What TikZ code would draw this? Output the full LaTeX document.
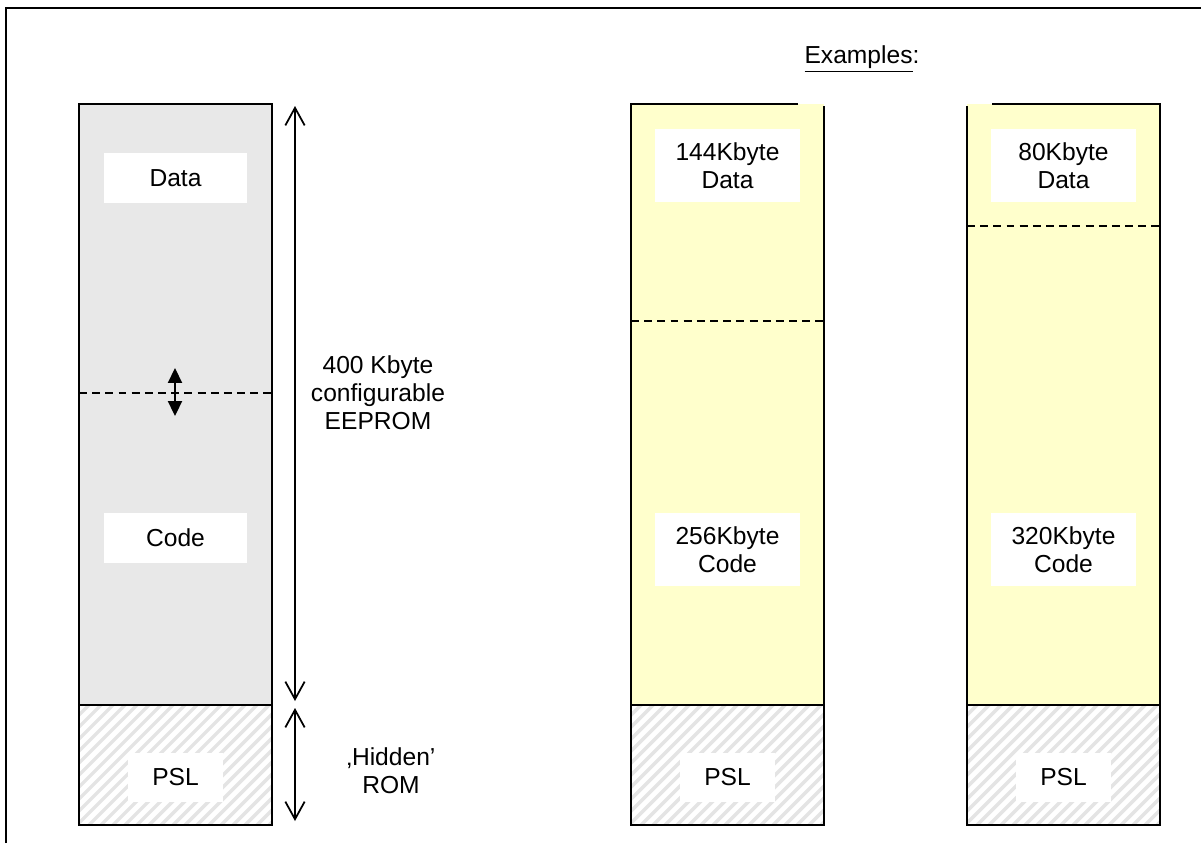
\documentclass[tikz,border=0pt]{standalone}
\usepackage{fontspec}
\setmainfont{Liberation Sans}
\usetikzlibrary{arrows.meta}
\definecolor{memgray}{RGB}{232,232,232}
\definecolor{memyellow}{RGB}{255,255,204}
\definecolor{hatchgray}{RGB}{228,228,228}

\begin{document}
\begin{tikzpicture}[x=0.02cm, y=-0.02cm,
        every node/.style={font=\fontsize{14}{16}\selectfont, align=center},
        wall/.style={line width=1pt},
        split/.style={line width=0.8pt, dash pattern=on 4.5pt off 3pt},
        hatch/.style={hatchgray, line width=2pt},
        span/.style={line width=1pt, {Straight Barb[length=10pt,width=11pt]}-{Straight Barb[length=10pt,width=11pt]}},
        tag/.style={fill=white, inner sep=0pt, minimum width=2.86cm, minimum height=1cm},
        tagtwo/.style={fill=white, inner sep=0pt, minimum width=2.9cm, minimum height=1.46cm},
        pslbox/.style={fill=white, inner sep=0pt, minimum width=1.92cm, minimum height=0.98cm}]
    \useasboundingbox (0,0) rectangle (1201,843);
    % outer frame (cut off right and bottom)
    \draw[line width=1pt] (6,843) -- (6,8) -- (1201,8);

    % configurable part
    \draw[wall, fill=memgray] (79,104) rectangle (272,705);
    \fill[memyellow] (631,104) rectangle (824,705);
    \fill[memyellow] (967,104) rectangle (1160,705);

    % hidden rom blocks
    \foreach \x in {79,631,967}{
        \begin{scope}
            \clip (\x,705) rectangle ++(193,120);
            \foreach \k in {-132,-120,...,204}
                \draw[hatch] (\x+\k,835) -- ++(140,-140);
        \end{scope}
        \draw[wall] (\x,705) rectangle ++(193,120);
    }
    \draw[wall] (798,104) -- (631,104) -- (631,825) -- (824,825) -- (824,106);
    \draw[wall] (992,104) -- (1160,104) -- (1160,825) -- (967,825) -- (967,106);

    % data / code split
    \draw[split] (79,393) -- (272,393);
    \draw[split] (631,321) -- (824,321);
    \draw[split] (967,226) -- (1160,226);

    \node[tag] (data) at (175.5,178) {Data};
    \node[tag] (code) at (175.5,538) {Code};
    \node[tagtwo] (dataa) at (727.5,165.5) {144Kbyte\\Data};
    \node[tagtwo] (codea) at (727.5,549.5) {256Kbyte\\Code};
    \node[tagtwo] (datab) at (1063.5,165.5) {80Kbyte\\Data};
    \node[tagtwo] (codeb) at (1063.5,549.5) {320Kbyte\\Code};
    \node[pslbox] (psla) at (175.5,777.5) {PSL};
    \node[pslbox] (pslb) at (727.5,777.5) {PSL};
    \node[pslbox] (pslc) at (1063.5,777.5) {PSL};

    % movable border
    \coordinate (mvtop) at (175,368);
    \coordinate (mvbot) at (175,416);
    \draw[line width=1pt, {Triangle[length=8.5pt,width=8pt]}-{Triangle[length=8.5pt,width=8pt]}] (mvtop) -- (mvbot);

    % sizes
    \coordinate (eetop) at (295,106);
    \coordinate (eebot) at (295,701);
    \coordinate (romtop) at (295,708);
    \coordinate (rombot) at (295,821);
    \draw[span] (eetop) -- (eebot);
    \draw[span] (romtop) -- (rombot);
    \node (eeprom) at (378,393) {400 Kbyte\\configurable\\EEPROM};
    \node (rom) at (391,771) {‚Hidden’\\ROM};

    \node (examples) at (862,59) {\underline{Examples}:};
\end{tikzpicture}
\end{document}
